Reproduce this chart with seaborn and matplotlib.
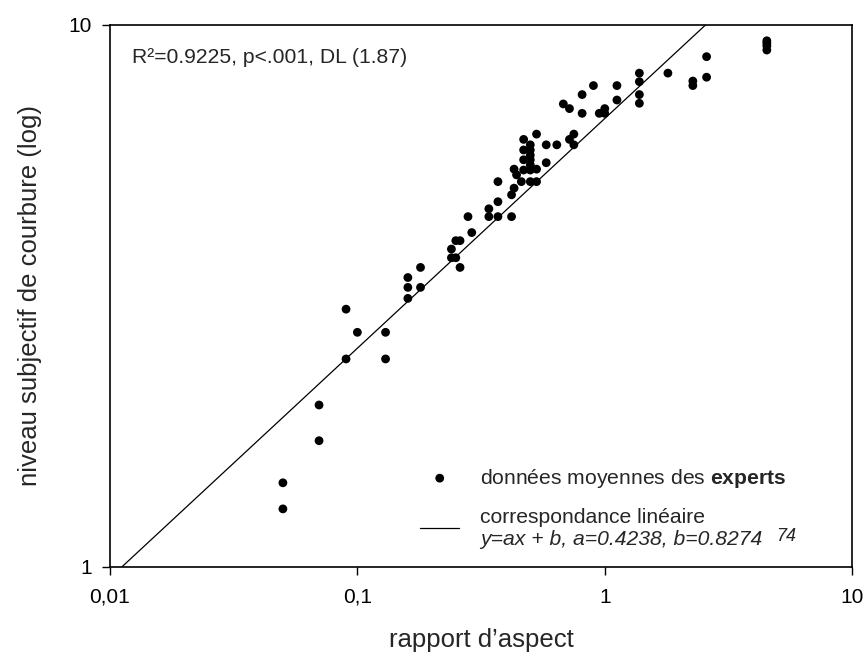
import numpy as np
import matplotlib
matplotlib.use("Agg")
import matplotlib.pyplot as plt
import seaborn as sns

# données (rapport d'aspect, niveau subjectif)
rapport = [0.05, 0.05, 0.07, 0.07, 0.09, 0.09, 0.10, 0.13, 0.13,
           0.16, 0.16, 0.16, 0.18, 0.18, 0.24, 0.24, 0.25, 0.25, 0.26, 0.26,
           0.28, 0.29, 0.34, 0.34, 0.37, 0.37, 0.37, 0.42, 0.42, 0.43, 0.43,
           0.44, 0.46, 0.47, 0.47, 0.47, 0.47,
           0.50, 0.50, 0.50, 0.50, 0.50, 0.50, 0.50,
           0.53, 0.53, 0.53, 0.58, 0.58, 0.64, 0.68, 0.72, 0.72, 0.75, 0.75,
           0.81, 0.81, 0.90, 0.95, 1.00, 1.00, 1.12, 1.12,
           1.38, 1.38, 1.38, 1.38, 1.80, 2.27, 2.27, 2.58, 2.58,
           4.52, 4.52, 4.52, 4.52]
niveau = [1.43, 1.28, 1.99, 1.71, 2.99, 2.42, 2.71, 2.71, 2.42,
          3.42, 3.28, 3.13, 3.57, 3.28, 3.86, 3.72, 4.00, 3.72, 4.00, 3.57,
          4.43, 4.14, 4.58, 4.43, 5.14, 4.72, 4.43, 4.86, 4.43, 5.42, 5.00,
          5.29, 5.14, 6.15, 5.88, 5.64, 5.40,
          6.01, 5.88, 5.75, 5.64, 5.52, 5.40, 5.14,
          6.29, 5.42, 5.14, 6.01, 5.57, 6.01, 7.15, 7.01, 6.15, 6.29, 6.01,
          7.44, 6.87, 7.73, 6.87, 7.01, 6.87, 7.73, 7.27,
          8.15, 7.86, 7.44, 7.17, 8.15, 7.88, 7.73, 8.74, 8.01,
          9.35, 9.26, 9.15, 8.99]

# correspondance linéaire (en log)
a = 0.4238
b = 0.8274

x_ticks = [0.01, 0.1, 1, 10]
x_ticklabels = ['0,01', '0,1', '1', '10']
y_ticks = [1, 10]
y_ticklabels = ['1', '10']

sns.set_style("ticks")
plt.rcParams['font.family'] = ['Liberation Sans', 'DejaVu Sans']
plt.rcParams['mathtext.fontset'] = 'custom'
plt.rcParams['mathtext.rm'] = 'Liberation Sans'
plt.rcParams['mathtext.bf'] = 'Liberation Sans:bold'
plt.rcParams['mathtext.it'] = 'Liberation Sans:italic'

fig = plt.figure(figsize=(8.66, 6.57), dpi=100)
ax = fig.add_axes([0.127, 0.137, 0.857, 0.825])

sns.scatterplot(x=rapport, y=niveau, ax=ax, color='black', s=40,
                edgecolor='none', linewidth=0,
                label="données moyennes des $\\mathbf{experts}$", zorder=3)

x_fit = np.logspace(-2, 1, 200)
y_fit = 10 ** (a * np.log10(x_fit) + b)
sns.lineplot(x=x_fit, y=y_fit, ax=ax, color='black', linewidth=0.9,
             label="correspondance linéaire\n", zorder=2)

ax.set_xscale('log')
ax.set_yscale('log')
ax.set_xlim(0.01, 10)
ax.set_ylim(1, 10)
ax.xaxis.set_minor_locator(matplotlib.ticker.NullLocator())
ax.yaxis.set_minor_locator(matplotlib.ticker.NullLocator())
ax.set_xticks(x_ticks)
ax.set_xticklabels(x_ticklabels)
ax.set_yticks(y_ticks)
ax.set_yticklabels(y_ticklabels)
ax.tick_params(direction='out', length=6, width=1, labelsize=15, colors='black')
ax.tick_params(axis='x', pad=9)
ax.tick_params(axis='y', pad=7)
for sp in ax.spines.values():
    sp.set_visible(True)
    sp.set_color('black')
    sp.set_linewidth(1.2)

ax.set_xlabel("rapport d’aspect", fontsize=18.5, labelpad=15)
ax.set_ylabel("niveau subjectif de courbure (log)", fontsize=18.5, labelpad=19)

ax.text(0.03, 0.94, "R²=0.9225, p<.001, DL (1.87)", transform=ax.transAxes,
        fontsize=15.2, va='center', ha='left')

leg = ax.legend(loc='upper left', bbox_to_anchor=(0.418, 0.185), frameon=False,
                fontsize=15.2, handlelength=1.85, handletextpad=1.0,
                labelspacing=0.85, borderaxespad=0, borderpad=0)

# deuxième ligne de la légende en italique, placée sous "correspondance linéaire"
fig.canvas.draw()
bb = leg.get_texts()[1].get_window_extent()
x0, y0 = ax.transAxes.inverted().transform((bb.x0, bb.y0))
eq = ax.text(x0, y0, "y=ax + b, a=0.4238, b=0.8274", transform=ax.transAxes,
             va='bottom', ha='left', fontsize=15.2, fontstyle='italic')
fig.canvas.draw()
be = eq.get_window_extent()
x1, y1 = ax.transAxes.inverted().transform((be.x1 + 14, be.y0 + 0.65 * be.height))
ax.text(x1, y1, "74", transform=ax.transAxes, va='center', ha='left',
        fontsize=13, fontstyle='italic')

fig.savefig("out.png", dpi=100)
